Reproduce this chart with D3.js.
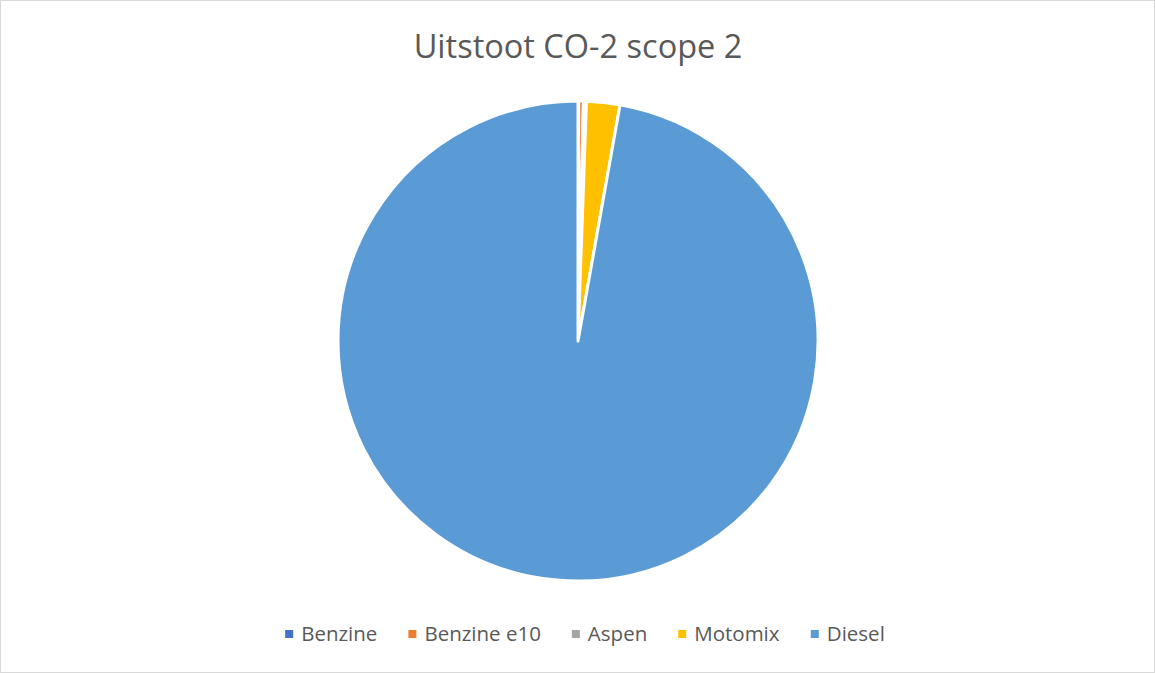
<!DOCTYPE html>
<html>
<head>
<meta charset="utf-8">
<script src="https://cdn.jsdelivr.net/npm/d3@7"></script>
<style>
  body { margin: 0; background: #fff; }
  text { font-family: "Open Sans", "Noto Sans", sans-serif; fill: #595959; }
</style>
</head>
<body>
<div id="chart"></div>
<script>
const width = 1155, height = 673;

// data
const categories = ["Benzine", "Benzine e10", "Aspen", "Motomix", "Diesel"];
const values = [0.4, 2.5, 1.6, 18, 780];
const colors = ["#4472c4", "#ed7d31", "#a5a5a5", "#ffc000", "#5b9bd5"];
const title = "Uitstoot CO-2 scope 2";

const data = categories.map((c, i) => ({ name: c, value: values[i], color: colors[i] }));

const svg = d3.select("#chart")
  .append("svg")
  .attr("width", width)
  .attr("height", height);

// chart border
svg.append("rect")
  .attr("x", 0.5).attr("y", 0.5)
  .attr("width", width - 1).attr("height", height - 1)
  .attr("fill", "#fff")
  .attr("stroke", "#d9d9d9");

svg.append("text")
  .attr("x", 578)
  .attr("y", 58)
  .attr("text-anchor", "middle")
  .style("font-size", "32.5px")
  .text(title);

const cx = 578, cy = 341, radius = 240;

const pie = d3.pie()
  .value(d => d.value)
  .sort(null);

const arc = d3.arc()
  .innerRadius(0)
  .outerRadius(radius);

svg.append("g")
  .attr("transform", `translate(${cx},${cy})`)
  .selectAll("path")
  .data(pie(data))
  .enter()
  .append("path")
  .attr("d", arc)
  .attr("fill", d => d.data.color)
  .attr("stroke", "#fff")
  .attr("stroke-width", 3)
  .attr("stroke-linejoin", "round");

// legend, laid out from measured text widths and centred
const legend = svg.append("g");
const items = legend.selectAll("g")
  .data(data)
  .enter()
  .append("g");

items.append("rect")
  .attr("width", 8)
  .attr("height", 8)
  .attr("y", -4)
  .attr("fill", d => d.color);

items.append("text")
  .attr("x", 16)
  .attr("dy", "0.35em")
  .style("font-size", "20.5px")
  .text(d => d.name);

let offset = 0;
items.each(function () {
  const w = this.getBBox().width;
  d3.select(this).attr("transform", `translate(${offset},0)`);
  offset += w + 31;
});
offset -= 31;
legend.attr("transform", `translate(${585 - offset / 2},634)`);
</script>
</body>
</html>
